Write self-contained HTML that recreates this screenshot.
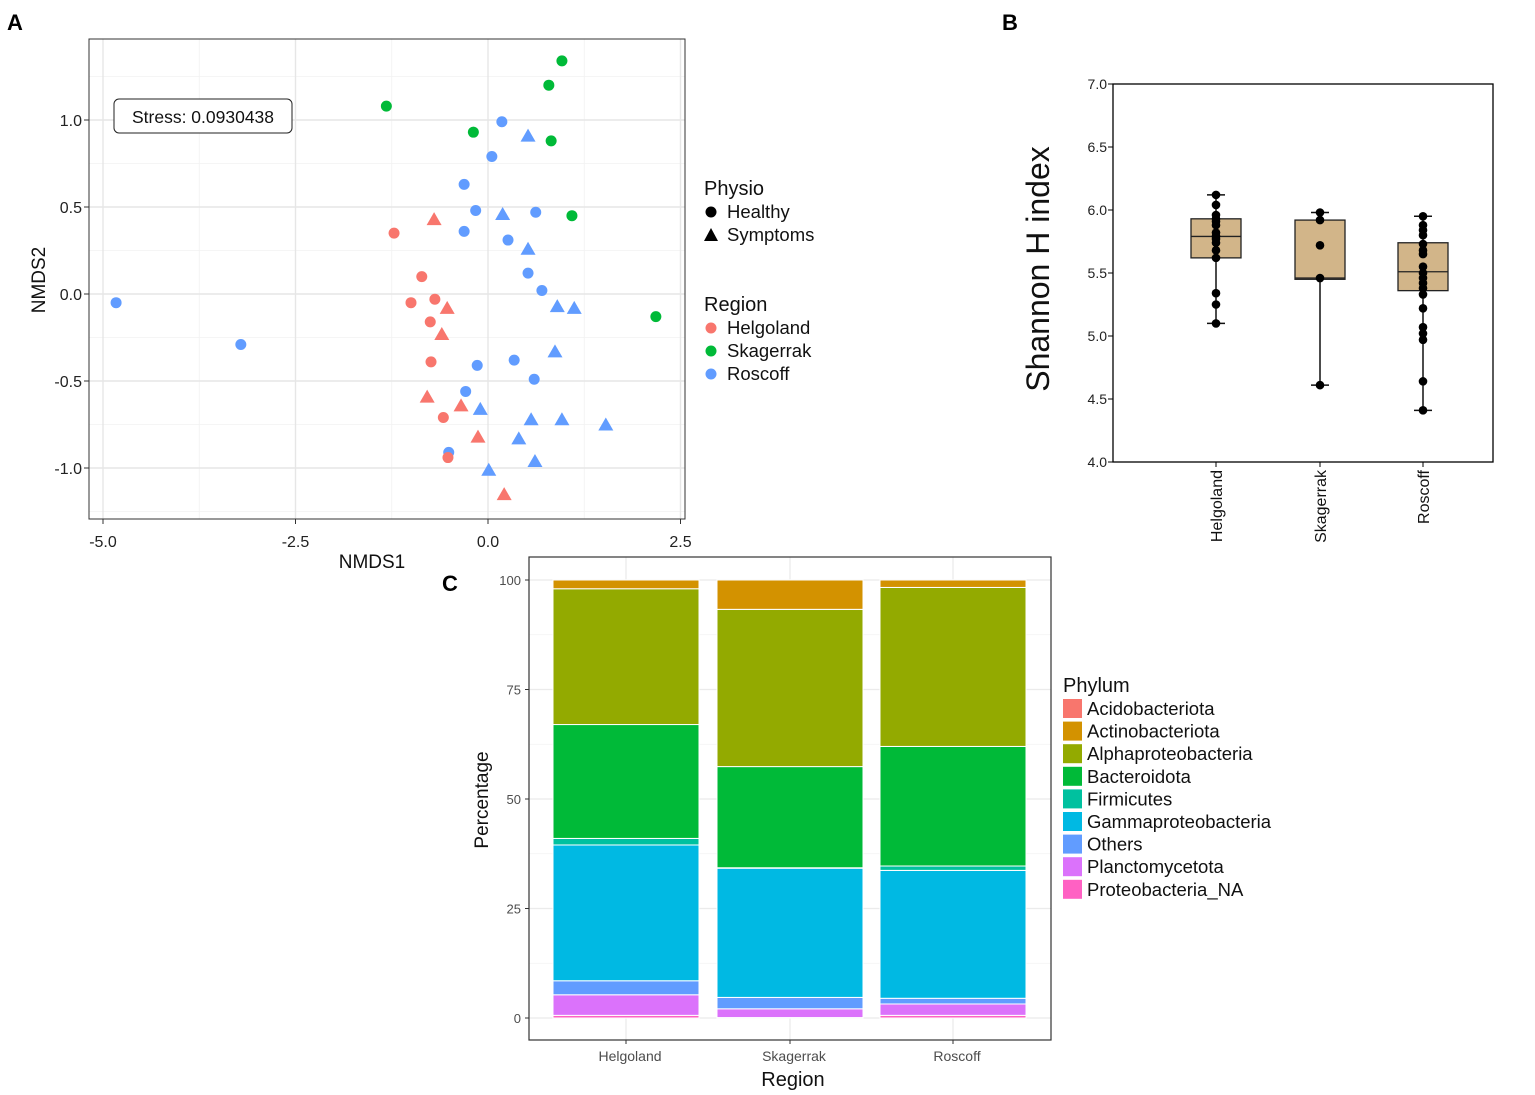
<!DOCTYPE html>
<html><head><meta charset="utf-8"><style>
html,body{margin:0;padding:0;background:#fff;width:1535px;height:1095px;overflow:hidden}
svg{font-family:"Liberation Sans",Arial,sans-serif}
</style></head><body>
<svg id="fig" width="1535" height="1095" xmlns="http://www.w3.org/2000/svg">
<text x="7" y="30" font-size="22" font-weight="bold">A</text>
<text x="1002" y="30" font-size="22" font-weight="bold">B</text>
<text x="442" y="591" font-size="22" font-weight="bold">C</text>
<g id="pa"></g>
<g id="pb"></g>
<g id="pc"></g>
</svg>
<script>
// ---- Panel A data ----
const nmdsRegion = ["Skagerrak","Skagerrak","Skagerrak","Skagerrak","Skagerrak","Skagerrak","Skagerrak",
"Roscoff","Roscoff","Roscoff","Roscoff","Roscoff","Roscoff","Roscoff","Roscoff","Roscoff","Roscoff","Roscoff","Roscoff","Roscoff","Roscoff","Roscoff","Roscoff",
"Roscoff","Roscoff","Roscoff","Roscoff","Roscoff","Roscoff","Roscoff","Roscoff","Roscoff","Roscoff","Roscoff","Roscoff","Roscoff",
"Helgoland","Helgoland","Helgoland","Helgoland","Helgoland","Helgoland","Helgoland","Helgoland",
"Helgoland","Helgoland","Helgoland","Helgoland","Helgoland","Helgoland","Helgoland"];
const nmdsPhysio = ["H","H","H","H","H","H","H",
"H","H","H","H","H","H","H","H","H","H","H","H","H","H","H","H",
"S","S","S","S","S","S","S","S","S","S","S","S","S",
"H","H","H","H","H","H","H","H",
"S","S","S","S","S","S","S"];
const nmds1 = [0.96,0.79,-1.32,-0.19,0.82,1.09,2.18,
0.18,0.05,-0.31,-0.16,0.62,-0.31,0.26,0.52,0.70,-4.83,-3.21,-0.14,0.34,0.60,-0.29,-0.51,
0.52,0.19,0.52,0.90,1.12,0.87,-0.10,0.56,0.96,1.53,0.40,0.61,0.01,
-1.22,-0.86,-1.00,-0.69,-0.75,-0.74,-0.58,-0.52,
-0.70,-0.53,-0.60,-0.79,-0.35,-0.13,0.21];
const nmds2 = [1.34,1.20,1.08,0.93,0.88,0.45,-0.13,
0.99,0.79,0.63,0.48,0.47,0.36,0.31,0.12,0.02,-0.05,-0.29,-0.41,-0.38,-0.49,-0.56,-0.91,
0.91,0.46,0.26,-0.07,-0.08,-0.33,-0.66,-0.72,-0.72,-0.75,-0.83,-0.96,-1.01,
0.35,0.10,-0.05,-0.03,-0.16,-0.39,-0.71,-0.94,
0.43,-0.08,-0.23,-0.59,-0.64,-0.82,-1.15];
const xTicksA = [-5.0,-2.5,0.0,2.5];
const yTicksA = [-1.0,-0.5,0.0,0.5,1.0];
// ---- Panel B data ----
const bCats = ["Helgoland","Skagerrak","Roscoff"];
const bQ1 = [5.62,5.45,5.36];
const bMed = [5.79,5.46,5.51];
const bQ3 = [5.93,5.92,5.74];
const bMin = [5.10,4.61,4.41];
const bMax = [6.12,5.98,5.95];
const bPtsHel = [6.12,6.04,5.96,5.93,5.91,5.88,5.82,5.79,5.77,5.74,5.68,5.62,5.34,5.25,5.10];
const bPtsSka = [5.98,5.92,5.72,5.46,4.61];
const bPtsRos = [5.95,5.88,5.84,5.80,5.73,5.68,5.65,5.55,5.50,5.46,5.42,5.38,5.33,5.22,5.07,5.02,4.97,4.64,4.41];
const yTicksB = [4.0,4.5,5.0,5.5,6.0,6.5,7.0];
// ---- Panel C data ----
const phyla = ["Acidobacteriota","Actinobacteriota","Alphaproteobacteria","Bacteroidota","Firmicutes","Gammaproteobacteria","Others","Planctomycetota","Proteobacteria_NA"];
const phylaColors = ["#F8766D","#D39200","#93AA00","#00BA38","#00C19F","#00B9E3","#619CFF","#DB72FB","#FF61C3"];
const cRegions = ["Helgoland","Skagerrak","Roscoff"];
const pctHel = [0.0,2.0,31.0,26.0,1.5,31.0,3.2,4.7,0.6];
const pctSka = [0.0,6.7,35.9,23.1,0.1,29.5,2.6,2.0,0.1];
const pctRos = [0.0,1.7,36.3,27.3,1.0,29.2,1.3,2.6,0.6];
const yTicksC = [0,25,50,75,100];

const NS="http://www.w3.org/2000/svg";
function mk(tag,attrs,parent,txt){const e=document.createElementNS(NS,tag);for(const k in attrs)e.setAttribute(k,attrs[k]);if(txt!==undefined)e.textContent=txt;parent.appendChild(e);return e;}

// ===== Panel A =====
(function(){
const g=document.getElementById('pa');
const L=89,R=685,T=39,B=519;
const sx=v=>488+v*77, sy=v=>294-v*174;
mk('rect',{x:L,y:T,width:R-L,height:B-T,fill:'#fff'},g);
const minorX=[-3.75,-1.25,1.25], minorY=[-1.25,-0.75,-0.25,0.25,0.75,1.25];
minorX.forEach(v=>mk('line',{x1:sx(v),x2:sx(v),y1:T,y2:B,stroke:'#f2f2f2','stroke-width':0.8},g));
minorY.forEach(v=>mk('line',{x1:L,x2:R,y1:sy(v),y2:sy(v),stroke:'#f2f2f2','stroke-width':0.8},g));
xTicksA.forEach(v=>{
 mk('line',{x1:sx(v),x2:sx(v),y1:T,y2:B,stroke:'#e6e6e6','stroke-width':1.4},g);
 mk('line',{x1:sx(v),x2:sx(v),y1:B,y2:B+5,stroke:'#333'},g);
 const t=mk('text',{x:sx(v),y:B+28,'font-size':16,'text-anchor':'middle',fill:'#222'},g,v.toFixed(1));
 
 
});
yTicksA.forEach(v=>{
 mk('line',{x1:L,x2:R,y1:sy(v),y2:sy(v),stroke:'#e6e6e6','stroke-width':1.4},g);
 mk('line',{x1:L-5,x2:L,y1:sy(v),y2:sy(v),stroke:'#333'},g);
 const t=mk('text',{x:L-7,y:sy(v)+6,'font-size':16,'text-anchor':'end',fill:'#222'},g,v.toFixed(1));
 
 
});
const col={Helgoland:'#F8766D',Skagerrak:'#00BA38',Roscoff:'#619CFF'};
nmds1.forEach((v,i)=>{
 const x=sx(v),y=sy(nmds2[i]),c=col[nmdsRegion[i]];
 let e;
 if(nmdsPhysio[i]==='H') e=mk('circle',{cx:x,cy:y,r:5.5,fill:c},g);
 else e=mk('polygon',{points:`${x},${y-7} ${x-7.5},${y+6} ${x+7.5},${y+6}`,fill:c},g);
 
 
});
mk('rect',{x:L,y:T,width:R-L,height:B-T,fill:'none',stroke:'#333','stroke-width':1},g);
mk('rect',{x:114,y:99,width:178,height:34,rx:5,fill:'#fff',stroke:'#222','stroke-width':1,},g);
mk('text',{x:203,y:123,'font-size':17.5,'text-anchor':'middle',fill:'#111',},g,'Stress: 0.0930438');
mk('text',{x:372,y:568,'font-size':19,'text-anchor':'middle',fill:'#111',},g,'NMDS1');
mk('text',{x:45,y:280,'font-size':19,'text-anchor':'middle',fill:'#111',transform:'rotate(-90 45 280)',},g,'NMDS2');
mk('text',{x:704,y:195,'font-size':20,fill:'#111',},g,'Physio');
mk('circle',{cx:711,cy:212,r:5.5,fill:'#000'},g);
mk('text',{x:727,y:218,'font-size':18.5,fill:'#111',},g,'Healthy');
mk('polygon',{points:'711,228 704,241 718,241',fill:'#000'},g);
mk('text',{x:727,y:241,'font-size':18.5,fill:'#111',},g,'Symptoms');
mk('text',{x:704,y:311,'font-size':20,fill:'#111',},g,'Region');
[['Helgoland',328],['Skagerrak',351],['Roscoff',374]].forEach(([n,y])=>{
 mk('circle',{cx:711,cy:y,r:5.5,fill:col[n]},g);
 const t=mk('text',{x:727,y:y+6,'font-size':18.5,fill:'#111'},g,n);
 
 
});
})();

// ===== Panel B =====
(function(){
const g=document.getElementById('pb');
const L=1113,R=1493,T=84,B=462;
const sy=v=>B-(v-4)*126;
const cx=[1216,1320,1423];
yTicksB.forEach(v=>{
 mk('line',{x1:L-5,x2:L,y1:sy(v),y2:sy(v),stroke:'#000'},g);
 const t=mk('text',{x:L-6,y:sy(v)+5,'font-size':14,'text-anchor':'end',fill:'#222'},g,v.toFixed(1));
 
 
});
const pts=[bPtsHel,bPtsSka,bPtsRos];
bCats.forEach((c,i)=>{
 const x=cx[i];
 mk('line',{x1:x,x2:x,y1:sy(bMax[i]),y2:sy(bMin[i]),stroke:'#111','stroke-width':1.5},g);
 mk('line',{x1:x-9,x2:x+9,y1:sy(bMax[i]),y2:sy(bMax[i]),stroke:'#111','stroke-width':1.5},g);
 mk('line',{x1:x-9,x2:x+9,y1:sy(bMin[i]),y2:sy(bMin[i]),stroke:'#111','stroke-width':1.5},g);
 const b=mk('rect',{x:x-25,y:sy(bQ3[i]),width:50,height:sy(bQ1[i])-sy(bQ3[i]),fill:'#D2B589',stroke:'#222','stroke-width':1.3},g);
 
 
 mk('line',{x1:x-25,x2:x+25,y1:sy(bMed[i]),y2:sy(bMed[i]),stroke:'#222','stroke-width':1.3},g);
 pts[i].forEach(v=>{
  const p=mk('circle',{cx:x,cy:sy(v),r:4.3,fill:'#000'},g);
  
  
 });
 mk('line',{x1:x,x2:x,y1:B,y2:B+5,stroke:'#000'},g);
 const t=mk('text',{x:x+6,y:B+8,'font-size':16,'text-anchor':'end',fill:'#111',transform:`rotate(-90 ${x+6} ${B+8})`},g,c);
 
 
});
mk('rect',{x:L,y:T,width:R-L,height:B-T,fill:'none',stroke:'#000','stroke-width':1.3},g);
mk('text',{x:1049,y:269,'font-size':32,'text-anchor':'middle',fill:'#111',transform:'rotate(-90 1049 269)',},g,'Shannon H index');
})();

// ===== Panel C =====
(function(){
const g=document.getElementById('pc');
const L=529,R=1051,T=557,B=1040;
const sy=v=>1018-v*4.38;
const cx=[626,790,953], bw=146;
mk('rect',{x:L,y:T,width:R-L,height:B-T,fill:'#fff'},g);
[12.5,37.5,62.5,87.5].forEach(v=>mk('line',{x1:L,x2:R,y1:sy(v),y2:sy(v),stroke:'#f2f2f2','stroke-width':0.8},g));
yTicksC.forEach(v=>{
 mk('line',{x1:L,x2:R,y1:sy(v),y2:sy(v),stroke:'#ebebeb','stroke-width':1.3},g);
 mk('line',{x1:L-4,x2:L,y1:sy(v),y2:sy(v),stroke:'#333'},g);
 const t=mk('text',{x:L-8,y:sy(v)+5,'font-size':13,'text-anchor':'end',fill:'#4d4d4d'},g,String(v));
 
 
});
cx.forEach(x=>mk('line',{x1:x,x2:x,y1:T,y2:B,stroke:'#ebebeb','stroke-width':1.3},g));
const data=[pctHel,pctSka,pctRos];
cRegions.forEach((r,i)=>{
 let cum=0;
 for(let k=phyla.length-1;k>=0;k--){
  const v=data[i][k];
  if(v>0){
   const s=mk('rect',{x:cx[i]-bw/2,y:sy(cum+v),width:bw,height:v*4.38,fill:phylaColors[k],stroke:'#fff','stroke-width':1},g);
   
   
  }
  cum+=v;
 }
 mk('line',{x1:cx[i],x2:cx[i],y1:B,y2:B+4,stroke:'#333'},g);
 const t=mk('text',{x:cx[i]+4,y:B+21,'font-size':14,'text-anchor':'middle',fill:'#4d4d4d'},g,r);
 
 
});
mk('rect',{x:L,y:T,width:R-L,height:B-T,fill:'none',stroke:'#333','stroke-width':1.2},g);
mk('text',{x:793,y:1086,'font-size':20,'text-anchor':'middle',fill:'#111',},g,'Region');
mk('text',{x:488,y:800,'font-size':19,'text-anchor':'middle',fill:'#111',transform:'rotate(-90 488 800)',},g,'Percentage');
mk('text',{x:1063,y:692,'font-size':20,fill:'#111',},g,'Phylum');
phyla.forEach((p,k)=>{
 const y=699+k*22.6;
 mk('rect',{x:1063,y:y,width:19,height:19,fill:phylaColors[k]},g);
 const t=mk('text',{x:1087,y:y+16,'font-size':18.5,fill:'#111'},g,p);
 
 
});
})();
</script>
</body></html>
